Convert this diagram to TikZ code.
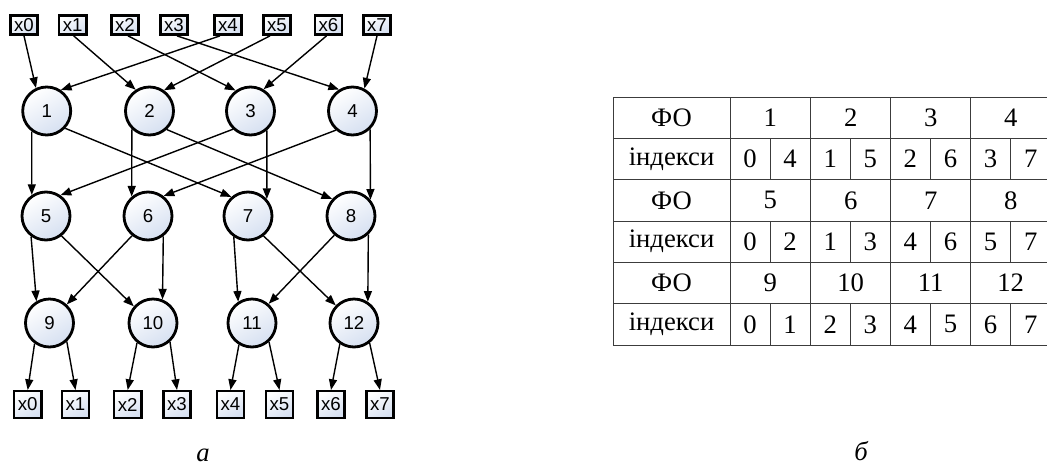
\documentclass[tikz,border=0pt]{standalone}
\usepackage{fontspec}
\setmainfont{Liberation Serif}
\newfontfamily\arialf{Liberation Sans}
\usetikzlibrary{arrows.meta,calc}
\definecolor{fillc}{RGB}{214,224,241}
\definecolor{gridc}{RGB}{60,60,60}
\begin{document}
\begin{tikzpicture}[x=0.75pt,y=-0.75pt,
  opnode/.style={circle,draw=black,line width=2.1pt,minimum size=36pt,inner sep=0pt,
    top color=white,bottom color=fillc,shading angle=30,
    font=\arialf\fontsize{14}{15}\selectfont},
  topbox/.style={rectangle,draw=black,line width=1.8pt,minimum width=20.5pt,minimum height=14.5pt,
    inner sep=0pt,top color=white,bottom color=fillc,shading angle=30,
    font=\arialf\fontsize{14}{15}\selectfont},
  botbox/.style={topbox,minimum height=20pt},
  arr/.style={-{Triangle[length=8pt,width=6pt]},line width=1.05pt},
  tbl/.style={draw=gridc,line width=0.75pt},
  ttext/.style={font=\fontsize{20}{21}\selectfont,inner sep=0pt},
  caption/.style={font=\itshape\fontsize{20}{21}\selectfont,inner sep=0pt}]
\useasboundingbox (0,0) rectangle (1047,465);
% top boxes
\foreach \i/\x in {0/24,1/72.7,2/125,3/174,4/228,5/277,6/328.5,7/377}
  \node[topbox] (t\i) at (\x,25) {x\i};
% circles
\foreach \i/\x in {1/46.7,2/149.5,3/250.5,4/352.5}
  \node[opnode] (c\i) at (\x,111) {\i};
\foreach \i/\x in {5/46,6/148,7/248,8/351}
  \node[opnode] (c\i) at (\x,216) {\i};
\foreach \i/\x in {9/49.5,10/153,11/252,12/354}
  \node[opnode] (c\i) at (\x,323) {\i};
% bottom boxes
\foreach \i/\x in {0/27.7,1/75.5,2/127.7,3/177,4/230.5,5/279.5,6/331,7/380}
  \node[botbox] (b\i) at (\x,404.5) {x\i};
% top -> row1
\draw[arr] (t0.south) -- (c1.115);
\draw[arr] ($(t4.south)+(-8,0)$) -- (c1.56);
\draw[arr] ($(t1.south)+(1,0)$) -- (c2.123);
\draw[arr] ($(t5.south)+(-7,0)$) -- (c2.55);
\draw[arr] ($(t2.south)+(3,0)$) -- (c3.126);
\draw[arr] ($(t6.south)+(-2,0)$) -- (c3.59);
\draw[arr] ($(t3.south)+(3,0)$) -- (c4.122);
\draw[arr] (t7.south) -- (c4.62);
% row1 -> row2
\draw[arr] (c1.234) -- (c5.124);
\draw[arr] (c1.317) -- (c7.131);
\draw[arr] (c2.226) -- (c6.130);
\draw[arr] (c2.313) -- (c8.138);
\draw[arr] (c3.226) -- (c5.55);
\draw[arr] (c3.310) -- (c7.42);
\draw[arr] (c4.229) -- (c6.52);
\draw[arr] (c4.314) -- (c8.40);
% row2 -> row3
\draw[arr] (c5.234) -- (c9.121);
\draw[arr] (c5.308) -- (c10.139);
\draw[arr] (c6.231) -- (c9.47);
\draw[arr] (c6.307) -- (c10.68);
\draw[arr] (c7.236) -- (c11.123);
\draw[arr] (c7.308) -- (c12.136);
\draw[arr] (c8.229) -- (c11.49);
\draw[arr] (c8.313) -- (c12.57);
% row3 -> outputs
\draw[arr] (c9.234) -- (b0.north);
\draw[arr] (c9.313) -- (b1.north);
\draw[arr] (c10.231) -- (b2.north);
\draw[arr] (c10.312) -- (b3.north);
\draw[arr] (c11.239) -- (b4.north);
\draw[arr] (c11.312) -- (b5.north);
\draw[arr] (c12.236) -- (b6.north);
\draw[arr] (c12.308) -- (b7.north);
% table
\draw[tbl] (613,97) rectangle (1050.7,345);
\foreach \y in {138.33,179.67,221,262.33,303.67}
  \draw[tbl] (613,\y) -- (1050.7,\y);
\foreach \x in {730,810.7,890.7,970.7}
  \draw[tbl] (\x,97) -- (\x,345);
\foreach \x in {770.35,850.7,930.7,1010.7}
  \foreach \ya/\yb in {138.33/179.67,221/262.33,303.67/345}
    \draw[tbl] (\x,\ya) -- (\x,\yb);
% table texts
\foreach \r/\yc in {1/117.67,2/200.33,3/283}
  \node[ttext] (fo\r) at (671.5,\yc) {ФО};
\foreach \r/\yc in {1/159,2/241.67,3/324.33}
  \node[ttext] (ix\r) at (671.5,\yc) {індекси};
\foreach \n/\x in {1/770.35,2/850.7,3/930.7,4/1010.7}
  \node[ttext] (g\n) at (\x,117.67) {\n};
\foreach \n/\x in {5/770.35,6/850.7,7/930.7,8/1010.7}
  \node[ttext] (g\n) at (\x,200.33) {\n};
\foreach \n/\x in {9/770.35,10/850.7,11/930.7,12/1010.7}
  \node[ttext] (g\n) at (\x,283) {\n};
\foreach \v [count=\k from 0] in {0,4,1,5,2,6,3,7}
  \node[ttext] (ia\k) at (750+40.1*\k,159) {\v};
\foreach \v [count=\k from 0] in {0,2,1,3,4,6,5,7}
  \node[ttext] (ib\k) at (750+40.1*\k,241.67) {\v};
\foreach \v [count=\k from 0] in {0,1,2,3,4,5,6,7}
  \node[ttext] (ic\k) at (750+40.1*\k,324.33) {\v};
% captions
\node[caption] (capa) at (203,455) {а};
\node[caption] (capb) at (861,451) {б};
\end{tikzpicture}
\end{document}
